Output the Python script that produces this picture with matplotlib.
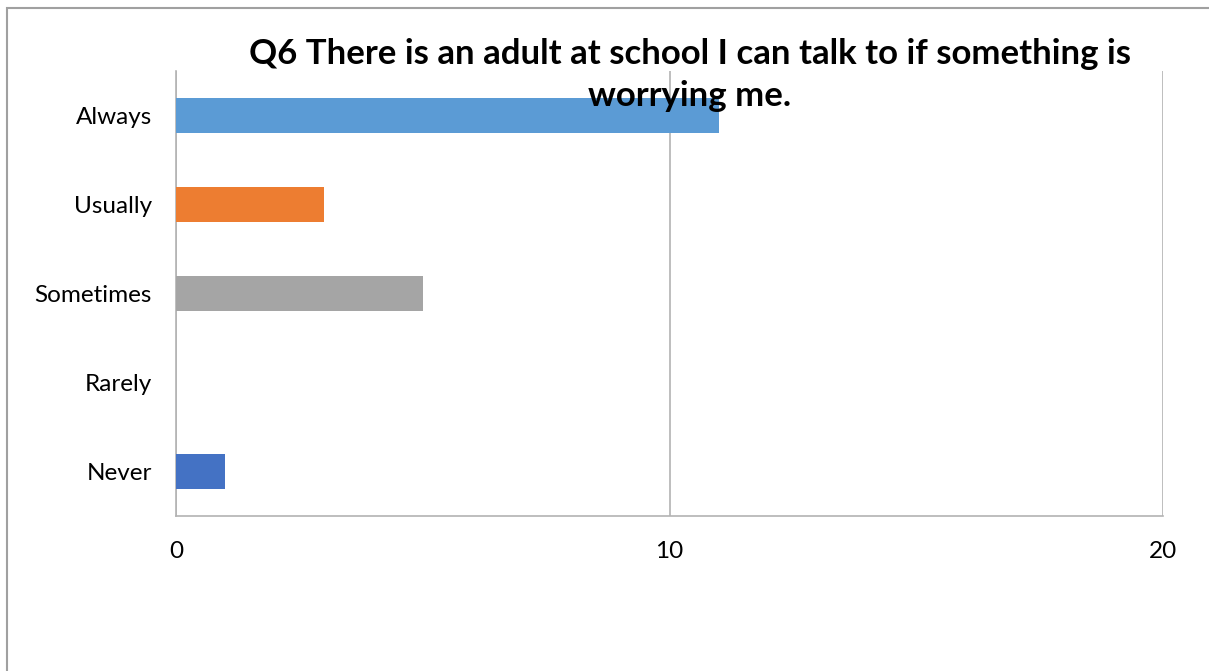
import matplotlib.pyplot as plt
from matplotlib.patches import Rectangle

categories = ['Always', 'Usually', 'Sometimes', 'Rarely', 'Never']
counts = [11, 3, 5, 0, 1]
colors = ['#5B9BD5', '#ED7D31', '#A5A5A5', '#FFC000', '#4472C4']
xticks = [0, 10, 20]

plt.rcParams['font.family'] = ['Lato', 'DejaVu Sans']

fig = plt.figure(figsize=(12.09, 6.71), dpi=100)
ax = fig.add_axes([176/1209, 1 - 516/671, (1163 - 176)/1209, (516 - 71)/671])

ax.barh(range(len(categories)), counts, height=0.4, color=colors, zorder=3)
ax.set_ylim(len(categories) - 0.5, -0.5)
ax.set_xlim(0, 20)
ax.set_xticks(xticks)
ax.set_yticks(range(len(categories)))
ax.set_yticklabels(categories)
ax.grid(axis='x', color='#b3b3b3', linewidth=1.2, zorder=0)
for s in ['top', 'right']:
    ax.spines[s].set_visible(False)
for s in ['left', 'bottom']:
    ax.spines[s].set_color('#b3b3b3')
    ax.spines[s].set_linewidth(1.2)
ax.tick_params(axis='y', length=0, pad=17.5, labelsize=17.5)
ax.tick_params(axis='x', length=0, pad=18, labelsize=17.5)

fig.text(690/1209, 1 - 75/671, 'Q6 There is an adult at school I can talk to if something is\nworrying me.',
         ha='center', va='center', fontsize=25, fontweight='bold', linespacing=1.42)

fig.patches.append(Rectangle((7/1209, -0.1), 1.2, 1 - 8/671 + 0.1, transform=fig.transFigure,
                             fill=False, edgecolor='#a0a0a0', linewidth=1.5))

fig.savefig('out.png', dpi=100)
